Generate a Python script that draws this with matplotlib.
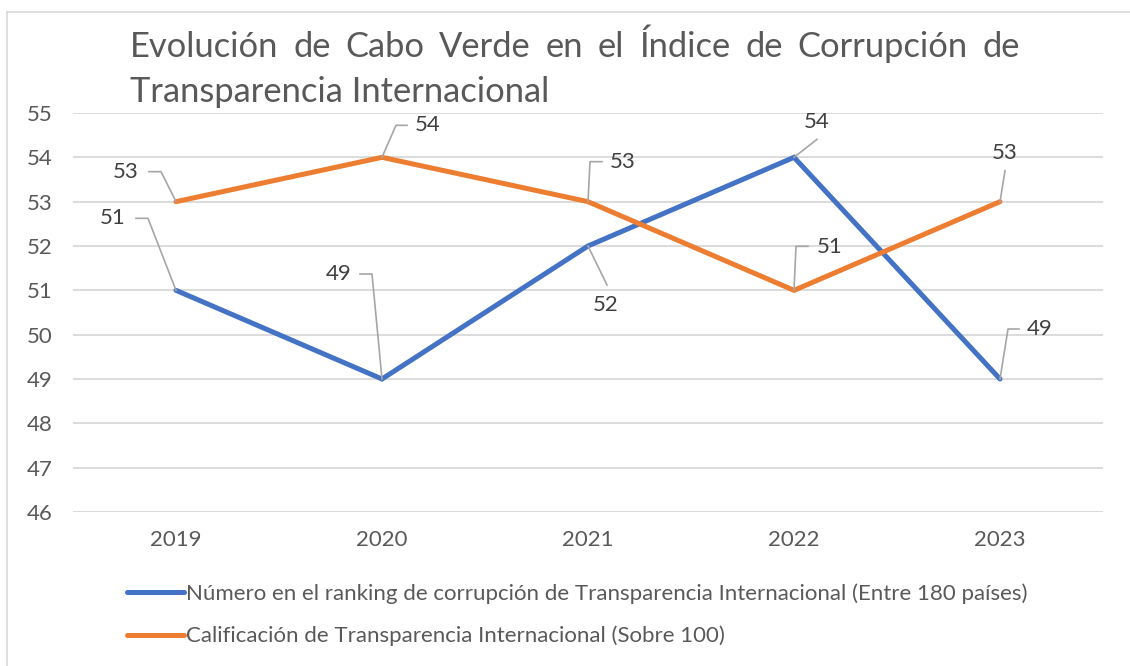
import matplotlib
matplotlib.use("Agg")
import matplotlib.pyplot as plt
from matplotlib.lines import Line2D
from matplotlib.transforms import IdentityTransform

FONT = "Lato"
plt.rcParams['font.family'] = [FONT, 'DejaVu Sans']

years = ["2019", "2020", "2021", "2022", "2023"]
ranking = [51, 49, 52, 54, 49]
score = [53, 54, 53, 51, 53]
label_ranking = "Número en el ranking de corrupción de Transparencia Internacional (Entre 180 países)"
label_score = "Calificación de Transparencia Internacional (Sobre 100)"
title_line1 = "Evolución de Cabo Verde en el Índice de Corrupción de"
title_line2 = "Transparencia Internacional"
yticks = list(range(46, 56))

BLUE = "#4472C4"
ORANGE = "#ED7D31"
GRID = "#D9D9D9"
TXT = "#595959"
LBL = "#404040"
LEAD = "#A6A6A6"

W, H = 1130, 666
fig = plt.figure(figsize=(W / 100, H / 100), dpi=100)
ax = fig.add_axes([73 / W, 1 - 512 / H, (1103 - 73) / W, (512 - 113) / H])

x = list(range(len(years)))
ax.plot(x, ranking, color=BLUE, lw=3.6, solid_capstyle='round', solid_joinstyle='miter', label=label_ranking, zorder=3)
ax.plot(x, score, color=ORANGE, lw=3.6, solid_capstyle='round', solid_joinstyle='miter', label=label_score, zorder=3)

ax.set_xlim(-0.5, len(years) - 0.5)
ax.set_ylim(46, 55)
ax.set_yticks(yticks)
ax.set_xticks(x)
ax.set_xticklabels(years)
ax.grid(axis='y', color=GRID, lw=1.3)
ax.set_axisbelow(True)
for s in ax.spines.values():
    s.set_visible(False)
ax.tick_params(length=0, labelsize=16, labelcolor=TXT)
ax.tick_params(axis='y', pad=15)
ax.tick_params(axis='x', pad=13)

# data labels with leader lines (offsets in image pixels, y down)
specs = [
    (ranking, 0, [(-28, -72), (-40, -72)], (-50, -72), 'right'),
    (score, 0, [(-15, -30), (-27, -30)], (-37, -30), 'right'),
    (ranking, 1, [(-10, -105), (-22, -105)], (-30, -105), 'right'),
    (score, 1, [(14, -32), (25, -32)], (33, -32), 'left'),
    (score, 2, [(2, -40), (14, -40)], (22, -40), 'left'),
    (ranking, 2, [(19, 39)], (18, 59), 'center'),
    (ranking, 3, [(23, -18)], (23, -35), 'center'),
    (score, 3, [(2, -44), (14, -44)], (23, -43), 'left'),
    (score, 4, [(5, -31)], (5, -49), 'center'),
    (ranking, 4, [(8, -50), (19, -50)], (27, -50), 'left'),
]
for series, i, poly, toff, ha in specs:
    px, py = ax.transData.transform((x[i], series[i]))
    xs = [px] + [px + dx for dx, dy in poly]
    ys = [py] + [py - dy for dx, dy in poly]
    fig.add_artist(Line2D(xs, ys, transform=IdentityTransform(), color=LEAD, lw=1.2, zorder=4))
    ax.annotate(str(series[i]), xy=(x[i], series[i]), xytext=(toff[0], -toff[1]),
                textcoords='offset pixels', ha=ha, va='center', fontsize=16, color=LBL, zorder=5)

# legend
leg = fig.legend(loc='upper left', bbox_to_anchor=(127 / W, 1 - 583 / H), frameon=False,
                 fontsize=16, handlelength=2.55, handletextpad=0.1, labelspacing=1.0,
                 borderpad=0, borderaxespad=0)
for t in leg.get_texts():
    t.set_color(TXT)
for l in leg.get_lines():
    l.set_solid_capstyle('round')

# border
fig.add_artist(Line2D([7, W + 5], [H - 12, H - 12], transform=IdentityTransform(), color="#D9D9D9", lw=1.2))
fig.add_artist(Line2D([7, 7], [H - 12, -5], transform=IdentityTransform(), color="#D9D9D9", lw=1.2))

# title: line 1 justified from x=130 to x=1020, line 2 left aligned
TS = 24.8
fig.canvas.draw()
r = fig.canvas.get_renderer()
words = title_line1.split(" ")
tmp = []
widths = []
for w in words:
    t = fig.text(0, 0, w, fontsize=TS, color=TXT, transform=IdentityTransform())
    widths.append(t.get_window_extent(r).width)
    tmp.append(t)
gap = (1020 - 130 - sum(widths)) / (len(words) - 1)
cx = 130
for t, wd in zip(tmp, widths):
    t.set_position((cx, H - 47))
    t.set_va('center')
    cx += wd + gap
fig.text(130, H - 92, title_line2, fontsize=TS, color=TXT, va='center', transform=IdentityTransform())

fig.savefig("out.png", dpi=100)
